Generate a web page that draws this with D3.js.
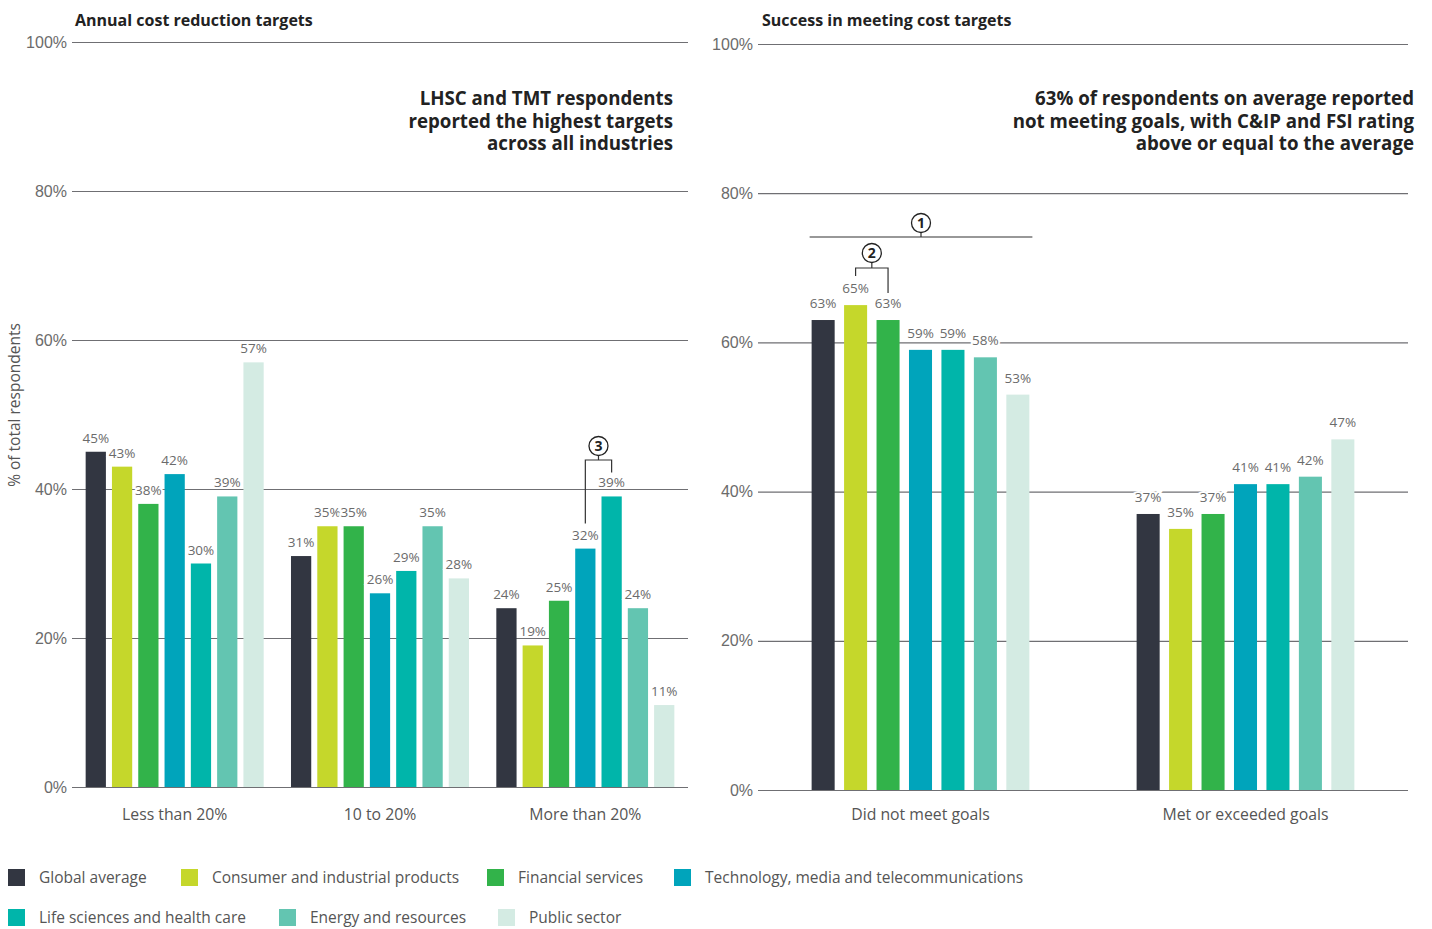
<!DOCTYPE html>
<html>
<head>
<meta charset="utf-8">
<script src="https://cdn.jsdelivr.net/npm/d3@7"></script>
<style>
  html, body { margin: 0; padding: 0; background: #fff; }
  svg { display: block; font-family: "Open Sans", "Noto Sans", sans-serif; }
</style>
</head>
<body>
<svg id="chart" width="1432" height="929"></svg>
<script>
// ---------- data ----------
const series = ["Global average", "Consumer and industrial products", "Financial services",
  "Technology, media and telecommunications", "Life sciences and health care",
  "Energy and resources", "Public sector"];
const colors = ["#323641", "#c5d72b", "#32b34a", "#00a4bb", "#00b5aa", "#63c5b1", "#d4ebe3"];

const leftCategories = ["Less than 20%", "10 to 20%", "More than 20%"];
const leftLess20 = [45, 43, 38, 42, 30, 39, 57];
const left10to20 = [31, 35, 35, 26, 29, 35, 28];
const leftMore20 = [24, 19, 25, 32, 39, 24, 11];

const rightCategories = ["Did not meet goals", "Met or exceeded goals"];
const rightNotMet = [63, 65, 63, 59, 59, 58, 53];
const rightMet = [37, 35, 37, 41, 41, 42, 47];

const yTicks = [0, 20, 40, 60, 80, 100];
const leftTitle = "Annual cost reduction targets";
const rightTitle = "Success in meeting cost targets";
const leftNote = ["LHSC and TMT respondents", "reported the highest targets", "across all industries"];
const rightNote = ["63% of respondents on average reported", "not meeting goals, with C&IP and FSI rating", "above or equal to the average"];
const yAxisTitle = "% of total respondents";

// ---------- drawing ----------
const svg = d3.select("#chart");

function panel(cfg) {
  const g = svg.append("g");
  const y = d3.scaleLinear().domain([0, 100]).range([cfg.y0, cfg.y1]);
  const x0 = d3.scaleBand().domain(cfg.categories).range([cfg.xL, cfg.xR])
    .paddingInner(cfg.groupPad).paddingOuter(cfg.groupPad / 2);
  const x1 = d3.scaleBand().domain(series).range([0, x0.bandwidth()])
    .paddingInner(cfg.barPad).paddingOuter(0);

  // gridlines + tick labels
  const yAxis = d3.axisLeft(y).tickValues(yTicks).tickFormat(d => d + "%")
    .tickSize(-(cfg.xR - cfg.xL)).tickPadding(5);
  const ax = g.append("g").attr("transform", `translate(${cfg.xL},0)`).call(yAxis);
  ax.select(".domain").remove();
  ax.selectAll(".tick line").attr("stroke", "#6f6f73").attr("stroke-width", 1.2);
  ax.selectAll(".tick text").attr("fill", "#6b6b6b").attr("font-size", 16);

  // title
  g.append("text").attr("x", cfg.titleX).attr("y", 26).text(cfg.title)
    .attr("font-weight", 700).attr("font-size", 16).attr("fill", "#222");

  // annotation
  const note = g.append("text").attr("text-anchor", "end").attr("font-weight", 700)
    .attr("font-size", 18.7).attr("fill", "#222");
  cfg.note.forEach((t, i) => note.append("tspan").attr("x", cfg.noteX).attr("y", 105 + i * 22.5).text(t));

  // bars
  const groups = g.selectAll(".grp").data(cfg.categories.map((c, i) => ({ cat: c, vals: cfg.values[i] })))
    .join("g").attr("transform", d => `translate(${x0(d.cat)},0)`);
  groups.selectAll("rect").data(d => d.vals.map((v, i) => ({ s: series[i], v, i })))
    .join("rect")
    .attr("x", d => x1(d.s)).attr("width", x1.bandwidth())
    .attr("y", d => y(d.v)).attr("height", d => y(0) - y(d.v))
    .attr("fill", d => colors[d.i]);
  groups.selectAll("text.val").data(d => d.vals.map((v, i) => ({ s: series[i], v, i })))
    .join("text").attr("class", "val")
    .attr("x", d => x1(d.s) + x1.bandwidth() / 2).attr("y", d => y(d.v) - cfg.labelOff)
    .attr("text-anchor", "middle").attr("font-size", 13.5).attr("fill", "#6b6b6b")
    .attr("stroke", "#fff").attr("stroke-width", 4).attr("paint-order", "stroke")
    .text(d => d.v + "%");

  // category axis labels
  g.selectAll("text.cat").data(cfg.categories).join("text").attr("class", "cat")
    .attr("x", d => x0(d) + x0.bandwidth() / 2).attr("y", 820)
    .attr("text-anchor", "middle").attr("font-size", 15.8).attr("fill", "#555").text(d => d);

  return { g, y, x0, x1 };
}

function circleNum(g, cx, cy, n) {
  g.append("circle").attr("cx", cx).attr("cy", cy).attr("r", 9.5)
    .attr("fill", "#fff").attr("stroke", "#222").attr("stroke-width", 1.3);
  g.append("text").attr("x", cx).attr("y", cy + 5).attr("text-anchor", "middle")
    .attr("font-size", 14).attr("font-weight", 700).attr("fill", "#222").text(n);
}

const L = panel({
  categories: leftCategories, values: [leftLess20, left10to20, leftMore20],
  xL: 72, xR: 688, y0: 787, y1: 42, groupPad: 0.133, barPad: 0.23,
  title: leftTitle, titleX: 75, note: leftNote, noteX: 673, labelOff: 9
});
const R = panel({
  categories: rightCategories, values: [rightNotMet, rightMet],
  xL: 758, xR: 1408, y0: 790, y1: 44, groupPad: 0.33, barPad: 0.29,
  title: rightTitle, titleX: 762, note: rightNote, noteX: 1414, labelOff: 12
});

// y axis title
svg.append("text").attr("transform", "translate(20,405) rotate(-90)")
  .attr("text-anchor", "middle").attr("font-size", 15.5).attr("fill", "#555").text(yAxisTitle);

// ---------- brackets ----------
const lineCol = "#333";
function barCenter(P, cat, idx) { return P.x0(cat) + P.x1(series[idx]) + P.x1.bandwidth() / 2; }

// bracket 3 : TMT vs LSHC in "More than 20%"
{
  const g = L.g.append("g").attr("fill", "none").attr("stroke", lineCol).attr("stroke-width", 1.2);
  const xa = barCenter(L, "More than 20%", 3), xb = barCenter(L, "More than 20%", 4);
  const hy = 460;
  const ya = L.y(leftMore20[3]) - 25, yb = L.y(leftMore20[4]) - 24;
  g.append("path").attr("d", `M${xa},${ya}V${hy}H${xb}V${yb}`);
  const cx = (xa + xb) / 2;
  g.append("path").attr("d", `M${cx},${hy}V${hy - 5}`);
  circleNum(L.g, cx, 446, "3");
}
// bracket 1 : spanning "Did not meet goals"
{
  const g = R.g.append("g").attr("fill", "none").attr("stroke", lineCol).attr("stroke-width", 1.2);
  const xa = R.x0("Did not meet goals") - 2, xb = R.x0("Did not meet goals") + R.x0.bandwidth() + 3;
  const hy = 237;
  g.append("path").attr("d", `M${xa},${hy}H${xb}`);
  const cx = (xa + xb) / 2;
  g.append("path").attr("d", `M${cx},${hy}V${hy - 5}`);
  circleNum(R.g, cx, 223, "1");
}
// bracket 2 : C&IP vs FS
{
  const g = R.g.append("g").attr("fill", "none").attr("stroke", lineCol).attr("stroke-width", 1.2);
  const xa = barCenter(R, "Did not meet goals", 1), xb = barCenter(R, "Did not meet goals", 2);
  const hy = 268;
  const ya = R.y(rightNotMet[1]) - 29, yb = R.y(rightNotMet[2]) - 27;
  g.append("path").attr("d", `M${xa},${ya}V${hy}H${xb}V${yb}`);
  const cx = (xa + xb) / 2;
  g.append("path").attr("d", `M${cx},${hy}V${hy - 5}`);
  circleNum(R.g, cx, 253, "2");
}

// ---------- legend ----------
const legendPos = [[8, 869], [181, 869], [487, 869], [674, 869], [8, 909], [279, 909], [498, 909]];
const lg = svg.append("g").selectAll("g").data(series).join("g")
  .attr("transform", (d, i) => `translate(${legendPos[i][0]},${legendPos[i][1]})`);
lg.append("rect").attr("width", 17).attr("height", 17).attr("fill", (d, i) => colors[i]);
lg.append("text").attr("x", 31).attr("y", 14).attr("font-size", 15.5).attr("fill", "#555").text(d => d);
</script>
</body>
</html>
